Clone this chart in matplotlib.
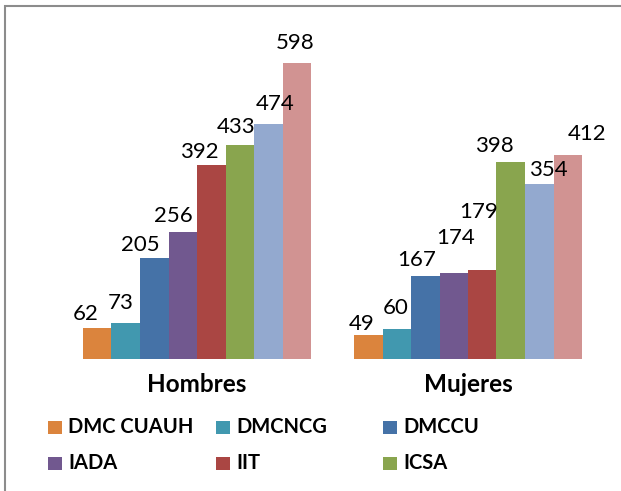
import matplotlib
matplotlib.use("Agg")
import matplotlib.pyplot as plt
from matplotlib.patches import Rectangle

# ---------------- data ----------------
categories = ["Hombres", "Mujeres"]
series_labels = ["DMC CUAUH", "DMCNCG", "DMCCU", "IADA", "IIT", "ICSA"]  # legend shows only these six
hombres = [62, 73, 205, 256, 392, 433, 474, 598]
mujeres = [49, 60, 167, 174, 179, 398, 354, 412]
colors = ["#DB843D", "#4198AF", "#4572A7", "#71588F", "#AA4643",
          "#89A54E", "#93A9CF", "#D19392"]

# label offsets (pixels) relative to bar top-center, as in the reference
lab_dx = [[-12, -5, -14, -9, -12, -4, 7, -2],
          [-7, -1, -9, 2, -4, -16, 9, 19]]
lab_dy = [[4, 10, 3, 6, 3, 8, 10, 10],
          [1, 11, 6, 25, 48, 6, 4, 11]]

W, H = 621, 491
DPI = 100
fig = plt.figure(figsize=(W / DPI, H / DPI), dpi=DPI)
fig.patch.set_facecolor("white")

FONT = "Lato"

# plot area in pixels
left_px, right_px = 61.5, 603.5
bottom_px, top_px = 359, 12.5
ax = fig.add_axes([left_px / W, (H - bottom_px) / H,
                   (right_px - left_px) / W, (bottom_px - top_px) / H])
ax.set_xlim(-0.5, 1.5)
ax.set_ylim(0, 700)
ax.axis("off")

n = len(hombres)
bw = 28.5 / 271.0
values = [hombres, mujeres]
for i in range(n):
    xs = [c - (n / 2) * bw + (i + 0.5) * bw for c in range(len(categories))]
    vals = [values[0][i], values[1][i]]
    ax.bar(xs, vals, width=bw, color=colors[i], edgecolor="none", linewidth=0)
    for g, (x, v) in enumerate(zip(xs, vals)):
        ax.annotate(str(v), xy=(x, v), xytext=(lab_dx[g][i], lab_dy[g][i]),
                    textcoords="offset pixels", ha="center", va="bottom",
                    fontsize=16, family=FONT, color="black")

# category labels
for c, name in enumerate(categories):
    ax.annotate(name, xy=(c, 0), xytext=(0, -26), textcoords="offset pixels",
                ha="center", va="center", fontsize=17.5, fontweight="bold",
                family=FONT, color="black")

# legend (Excel style, fixed column width)
col_x = [48, 216, 383]
row_y = [427, 463]
for k, lab in enumerate(series_labels):
    r, c = divmod(k, 3)
    x0 = col_x[c]
    y0 = row_y[r]
    fig.patches.append(Rectangle((x0 / W, (H - y0 - 6.5) / H), 14 / W, 13 / H,
                                 transform=fig.transFigure, facecolor=colors[k],
                                 edgecolor="none"))
    fig.text((x0 + 20) / W, (H - y0) / H, lab, ha="left", va="center",
             fontsize=14.5, fontweight="bold", family=FONT, color="black")

# chart border (cut on the right and bottom as in reference)
fig.patches.append(Rectangle((5 / W, -0.1), 1.2, (H - 6) / H + 0.1,
                             transform=fig.transFigure, facecolor="none",
                             edgecolor="#8c8c8c", linewidth=1.5))

fig.savefig("out.png", dpi=DPI, facecolor="white")
